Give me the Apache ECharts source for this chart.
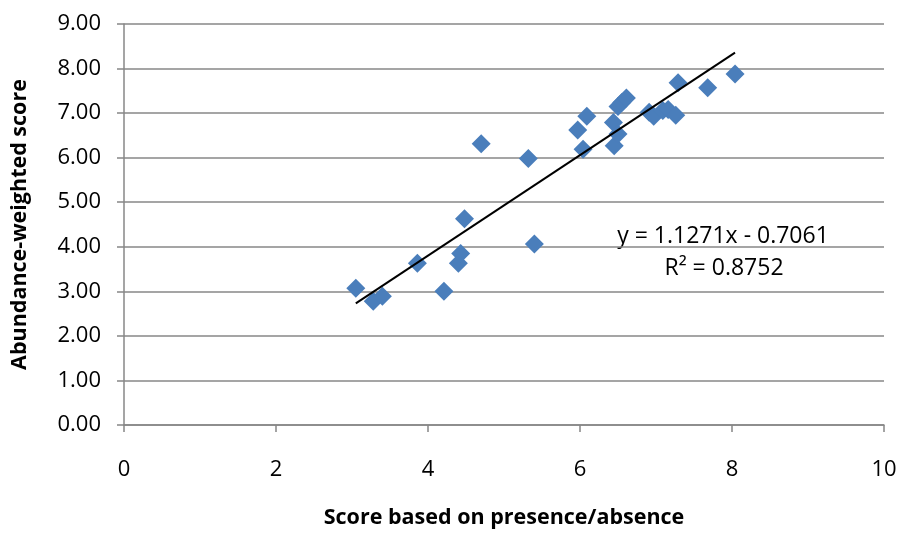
<!DOCTYPE html>
<html><head><meta charset="utf-8">
<script src="https://cdn.jsdelivr.net/npm/echarts@6/dist/echarts.min.js"></script>
<style>html,body{margin:0;padding:0;background:#fff}#c{width:901px;height:534px}</style>
</head><body><div id="c"></div>
<script>
// Data
var presenceScores = [3.05, 3.28, 3.40, 3.86, 4.21, 4.40, 4.43, 4.48, 4.70, 5.32, 5.40, 5.97, 6.04, 6.09, 6.44, 6.45, 6.50, 6.50, 6.55, 6.61, 6.91, 6.97, 7.09, 7.16, 7.26, 7.29, 7.68, 8.04];
var abundanceScores = [3.07, 2.78, 2.89, 3.63, 3.00, 3.63, 3.85, 4.63, 6.31, 5.98, 4.06, 6.62, 6.19, 6.93, 6.79, 6.27, 6.53, 7.15, 7.24, 7.34, 7.02, 6.93, 7.06, 7.08, 6.95, 7.68, 7.57, 7.88];
var trendSlope = 1.1271;
var trendIntercept = -0.7061;
var rSquared = '0.8752';
var xTicks = [0, 2, 4, 6, 8, 10];
var yTicks = [0, 1, 2, 3, 4, 5, 6, 7, 8, 9];
var xTitle = 'Score based on presence/absence';
var yTitle = 'Abundance-weighted score';

var points = presenceScores.map(function (x, i) { return [x, abundanceScores[i]]; });
var xMin = Math.min.apply(null, presenceScores);
var xMax = Math.max.apply(null, presenceScores);
var trendLine = [[xMin, trendSlope * xMin + trendIntercept], [xMax, trendSlope * xMax + trendIntercept]];

var FONT = '"Open Sans"';
var GRAY = '#878787';
var chart = echarts.init(document.getElementById('c'), null, {renderer: 'canvas'});
chart.setOption({
  animation: false,
  backgroundColor: '#fff',
  grid: {left: 124, top: 24, width: 760, height: 404, containLabel: false},
  xAxis: {
    type: 'value', min: xTicks[0], max: xTicks[xTicks.length - 1], interval: 2,
    name: xTitle, nameLocation: 'middle', nameGap: 82,
    nameTextStyle: {fontFamily: FONT, fontWeight: 'bold', fontSize: 21.5, color: '#000'},
    axisLine: {show: true, onZero: false, lineStyle: {color: GRAY, width: 1.5}},
    axisTick: {show: true, length: 7, lineStyle: {color: GRAY, width: 1.5}},
    axisLabel: {margin: 34, fontFamily: FONT, fontSize: 22, color: '#000'},
    splitLine: {show: false}
  },
  yAxis: {
    type: 'value', min: yTicks[0], max: yTicks[yTicks.length - 1], interval: 1,
    name: yTitle, nameLocation: 'middle', nameGap: 93,
    nameTextStyle: {fontFamily: FONT, fontWeight: 'bold', fontSize: 21.5, color: '#000'},
    axisLine: {show: true, onZero: false, lineStyle: {color: GRAY, width: 1.5}},
    axisTick: {show: true, length: 7, lineStyle: {color: GRAY, width: 1.5}},
    axisLabel: {margin: 23, fontFamily: FONT, fontSize: 22, color: '#000',
      formatter: function (v) { return v.toFixed(2); }},
    splitLine: {show: true, lineStyle: {color: GRAY, width: 1.5}}
  },
  series: [
    {type: 'scatter', data: points, symbol: 'diamond', symbolSize: 19,
      itemStyle: {color: '#4a7ebb', opacity: 1}, z: 3},
    {type: 'line', data: trendLine, symbol: 'none', silent: true,
      lineStyle: {color: '#000', width: 2}, z: 4}
  ],
  graphic: [
    {type: 'text', x: 723, y: 236, style: {text: 'y = ' + trendSlope + 'x - ' + Math.abs(trendIntercept).toFixed(4),
      font: '23px ' + FONT, fill: '#000', align: 'center', verticalAlign: 'middle'}},
    {type: 'text', x: 724, y: 268, style: {text: 'R² = ' + rSquared,
      font: '23px ' + FONT, fill: '#000', align: 'center', verticalAlign: 'middle'}}
  ]
});
</script></body></html>
